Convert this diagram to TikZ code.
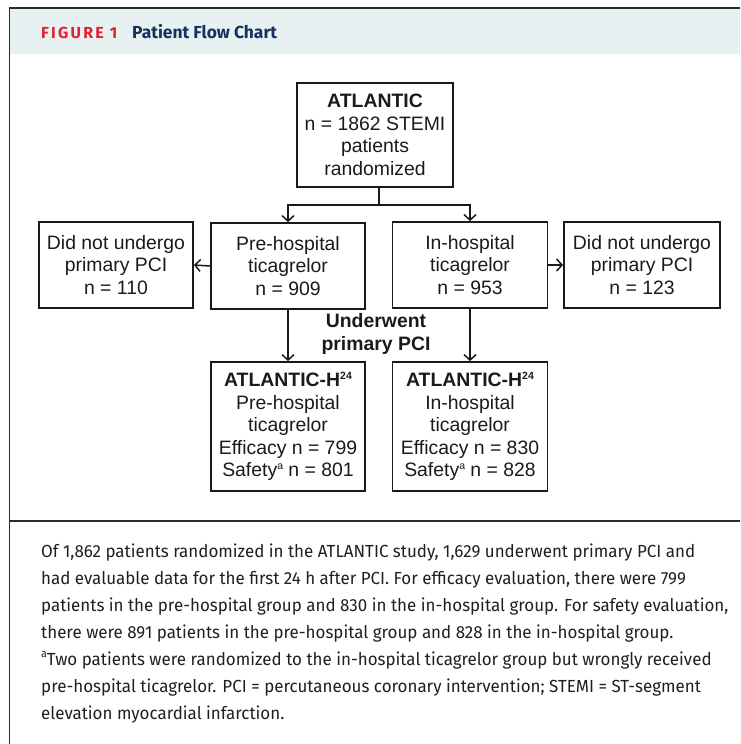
\documentclass[tikz,border=0pt]{standalone}
\usepackage{fontspec}
\setmainfont{Liberation Sans}
\newfontfamily\capfont{Fira Sans}
\newfontfamily\headfont{Fira Sans}
\usetikzlibrary{arrows.meta,positioning,calc}
\definecolor{hdrfill}{HTML}{E8F1F1}
\definecolor{figred}{HTML}{E2202F}
\definecolor{navy}{HTML}{15315F}
\definecolor{framec}{HTML}{2A2A2A}
\definecolor{boxc}{HTML}{1A1A1A}
\newsavebox\mycapbox
\newcommand\smallsup[1]{\raisebox{0.72ex}{\fontsize{10.5}{10.5}\selectfont #1}}
\newcommand\capsup[1]{\raisebox{0.8ex}{\fontsize{11}{11}\selectfont #1}}
\begin{document}
\sbox\mycapbox{\capfont\fontsize{17.5}{27}\selectfont Of 1,862 patients randomized in the ATLANTIC study, 1,629 underwent primary PCI and}%
\pgfmathsetmacro{\capsc}{654/(\wd\mycapbox)}%
\begin{tikzpicture}[x=1pt,y=-1pt,
  flowbox/.style={draw=boxc,line width=1.8pt,align=center,inner sep=0pt,
    font=\fontsize{19.4}{22.5}\selectfont,text=boxc},
  flowarrow/.style={draw=boxc,line width=1.5pt,-{Straight Barb[length=5.5pt,width=12pt,line width=1.5pt]}},
  flowline/.style={draw=boxc,line width=1.5pt},
  capline/.style={anchor=base west,inner sep=0pt,text=black!88},
  capfontset/.style={font=\capfont\fontsize{17.5}{27}\selectfont}
]
\useasboundingbox (0,0) rectangle (740,744);
% frame and header
\fill[hdrfill] (10,9) rectangle (740,54);
\draw[framec,line width=2pt] (9,8) -- (740,8);
\draw[framec,line width=1.5pt] (9.5,7) -- (9.5,744);
\draw[framec,line width=2pt] (9.5,521) -- (740,521);
\node[anchor=base west,inner sep=0pt,text=figred] (figlab) at (41,38.5)
  {\headfont\bfseries\fontsize{16}{18}\selectfont\addfontfeatures{LetterSpace=14}FIGURE 1};
\node[anchor=base west,inner sep=0pt,text=navy] (figtitle) at (132,38.5)
  {\headfont\bfseries\fontsize{17.4}{20}\selectfont Patient Flow Chart};
% boxes
\node[flowbox,minimum width=156pt,minimum height=104pt] (atl) at (375,135)
  {\textbf{ATLANTIC}\\n = 1862 STEMI\\patients\\randomized};
\node[flowbox,minimum width=154pt,minimum height=86pt] (lno) at (116,265)
  {Did not undergo\\primary PCI\\n = 110};
\node[flowbox,minimum width=154pt,minimum height=86pt] (pre) at (288,266)
  {Pre-hospital\\ticagrelor\\n = 909};
\node[flowbox,minimum width=155pt,minimum height=86pt] (inh) at (470,265)
  {In-hospital\\ticagrelor\\n = 953};
\node[flowbox,minimum width=156pt,minimum height=86pt] (rno) at (642,265)
  {Did not undergo\\primary PCI\\n = 123};
\node[flowbox,minimum width=154pt,minimum height=129pt] (hpre) at (288,426.5)
  {\textbf{ATLANTIC-H\smallsup{24}}\\Pre-hospital\\ticagrelor\\Efficacy n = 799\\Safety\smallsup{a} n = 801};
\node[flowbox,minimum width=155pt,minimum height=129pt] (hin) at (470,426.5)
  {\textbf{ATLANTIC-H\smallsup{24}}\\In-hospital\\ticagrelor\\Efficacy n = 830\\Safety\smallsup{a} n = 828};
\node[align=center,inner sep=0pt,font=\bfseries\fontsize{19.4}{22.5}\selectfont,text=boxc] (upci) at (376,334)
  {Underwent\\primary PCI};
% connectors
\coordinate (junc) at (379,205);
\draw[flowline] (atl.south -| junc) -- (junc);
\draw[flowarrow] (junc) -| (pre.north);
\draw[flowarrow] (junc) -| (inh.north);
\draw[flowarrow] (pre.west) -- (lno.east);
\draw[flowarrow] (inh.east) -- (rno.west);
\draw[flowarrow] (pre.south) -- (hpre.north);
\draw[flowarrow] (inh.south) -- (hin.north);
% caption
\node[capline,capfontset] (c1) at (41,557) {\scalebox{\capsc}[1]{Of 1,862 patients randomized in the ATLANTIC study, 1,629 underwent primary PCI and}};
\node[capline,capfontset] (c2) at (41,584) {\scalebox{\capsc}[1]{had evaluable data for the first 24 h after PCI. For efficacy evaluation, there were 799}};
\node[capline,capfontset] (c3) at (41,611) {\scalebox{\capsc}[1]{patients in the pre-hospital group and 830 in the in-hospital group. For safety evaluation,}};
\node[capline,capfontset] (c4) at (41,638) {\scalebox{\capsc}[1]{there were 891 patients in the pre-hospital group and 828 in the in-hospital group.}};
\node[capline,capfontset] (c5) at (41,665) {\scalebox{\capsc}[1]{\capsup{a}Two patients were randomized to the in-hospital ticagrelor group but wrongly received}};
\node[capline,capfontset] (c6) at (41,692) {\scalebox{\capsc}[1]{pre-hospital ticagrelor. PCI = percutaneous coronary intervention; STEMI = ST-segment}};
\node[capline,capfontset] (c7) at (41,719) {\scalebox{\capsc}[1]{elevation myocardial infarction.}};
\end{tikzpicture}
\end{document}
